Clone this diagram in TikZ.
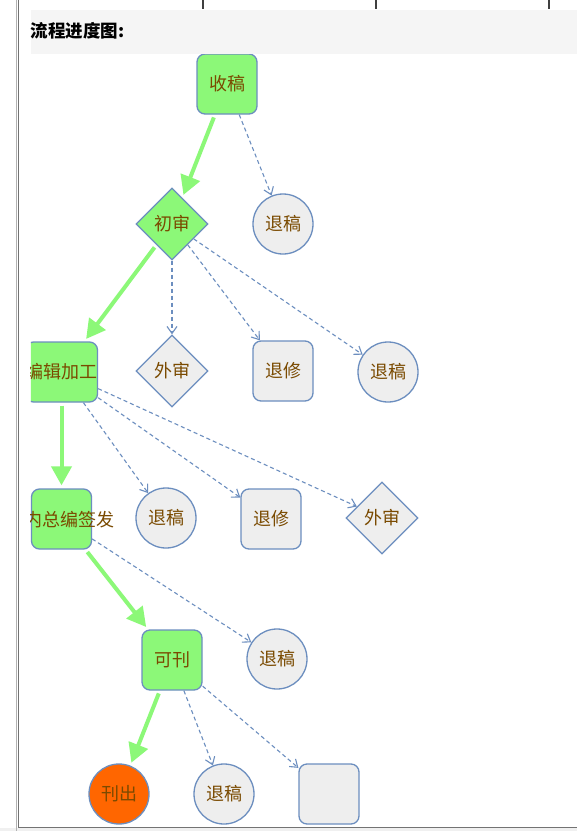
\documentclass[tikz,border=0pt]{standalone}
\usepackage{fontspec}
\newfontfamily\cjk{Noto Sans CJK SC}
\usetikzlibrary{shapes.geometric,arrows.meta}
\definecolor{greenf}{HTML}{8CF878}
\definecolor{bordc}{HTML}{6C8EBF}
\definecolor{greyf}{HTML}{EEEEEE}
\definecolor{orangef}{HTML}{FF6600}
\definecolor{txtc}{HTML}{7A4A00}
\definecolor{bandc}{HTML}{F5F5F5}
\definecolor{bottomc}{HTML}{F0F0F0}
\tikzset{
  nodetext/.style={text=txtc, font=\cjk\fontsize{18}{18}\selectfont},
  boxnode/.style={nodetext, draw=bordc, line width=1.3pt, rounded corners=8pt, minimum width=60pt, minimum height=60pt, inner sep=0pt},
  circnode/.style={nodetext, circle, draw=bordc, line width=1.3pt, minimum size=60pt, inner sep=0pt},
  dianode/.style={nodetext, diamond, aspect=1, draw=bordc, line width=1.3pt, minimum width=72pt, minimum height=72pt, inner sep=0pt},
  gfill/.style={fill=greenf},
  grfill/.style={fill=greyf},
  mainflow/.style={draw=greenf, line width=4pt, -{Triangle[length=19pt,width=20pt]}, shorten <=3pt, shorten >=3pt},
  sideflow/.style={draw=bordc, line width=1.1pt, dash pattern=on 4pt off 3pt, -{Straight Barb[length=7pt,width=10pt]}},
}
\begin{document}
\begin{tikzpicture}[x=1pt,y=-1pt]
\useasboundingbox (0,0) rectangle (577,831);
\fill[white] (0,0) rectangle (577,831);
% frame
\fill[bottomc] (0,828) rectangle (577,831);
\fill[bandc] (31,9.5) rectangle (577,53.5);
\draw[gray!60, line width=1pt] (16,0) -- (16,831);
\draw[gray!90!black, line width=1pt] (18.5,0) -- (18.5,827) -- (577,827);
\foreach \xx in {203,376,549} \draw[black!75, line width=1.2pt] (\xx,0) -- (\xx,9);
\node[anchor=west, inner sep=0pt, font=\cjk\bfseries\fontsize{17.5}{17.5}\selectfont] (title) at (30.5,31) {流程进度图:};
\begin{scope}
\clip (30.8,54) rectangle (577,826.5);
% nodes
\node[boxnode,gfill] (shou) at (227,84) {收稿};
\node[dianode,gfill] (chu) at (172,224) {初审};
\node[circnode,grfill] (tg1) at (283,224) {退稿};
\node[dianode,grfill] (ws1) at (172,371) {外审};
\node[boxnode,grfill] (tx1) at (283,371) {退修};
\node[circnode,grfill] (tg2) at (388,372) {退稿};
\node[boxnode,gfill] (bj) at (61.5,372) {编辑加工};
\node[boxnode,gfill] (zb) at (61.5,519) {};
\node[nodetext, anchor=east, inner sep=0pt] (zbtext) at (114.5,520) {内总编签发};
\node[circnode,grfill] (tg3) at (166,518) {退稿};
\node[boxnode,grfill] (tx2) at (271,519) {退修};
\node[dianode,grfill] (ws2) at (382,518) {外审};
\node[boxnode,gfill] (kk) at (172,660) {可刊};
\node[circnode,grfill] (tg4) at (277,659) {退稿};
\node[circnode,fill=orangef] (kc) at (119,794) {刊出};
\node[circnode,grfill] (tg5) at (224,794) {退稿};
\node[boxnode,grfill] (empty) at (329,794) {};
% main flow
\draw[mainflow] (shou) -- (chu);
\draw[mainflow] (chu) -- (bj);
\draw[mainflow] (bj) -- (zb);
\draw[mainflow] (zb) -- (kk);
\draw[mainflow] (kk) -- (kc);
% side flows
\draw[sideflow] (shou) -- (tg1);
\draw[sideflow] (chu) -- (ws1);
\draw[sideflow] (chu) -- (tx1);
\draw[sideflow] (chu) -- (tg2);
\draw[sideflow] (bj) -- (tg3);
\draw[sideflow] (bj) -- (tx2);
\draw[sideflow] (bj) -- (ws2);
\draw[sideflow] (zb) -- (tg4);
\draw[sideflow] (kk) -- (tg5);
\draw[sideflow] (kk) -- (empty);
\end{scope}
\end{tikzpicture}
\end{document}
